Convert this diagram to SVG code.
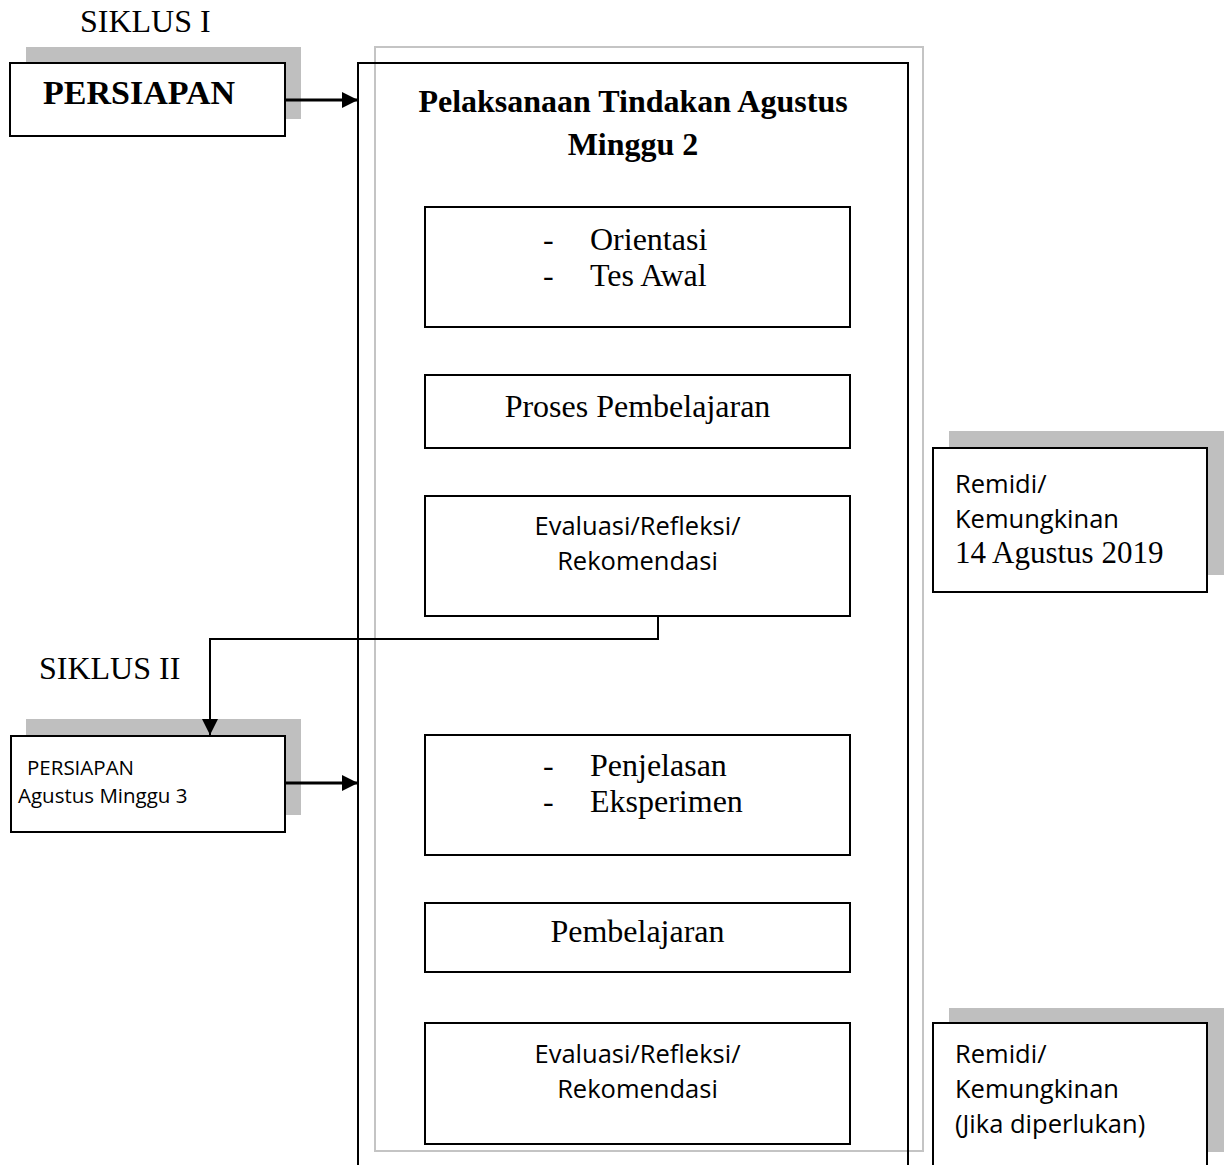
<svg xmlns="http://www.w3.org/2000/svg" width="1227" height="1165" viewBox="0 0 1227 1165">
<style>
.serif{font-family:"Liberation Serif","Times New Roman",serif;font-size:32px;fill:#000}
.bold{font-weight:bold}
.sans{font-family:"Open Sans","Noto Sans",sans-serif;font-size:25.5px;fill:#000}
.small{font-size:20.5px}
.box{fill:#fff;stroke:#000;stroke-width:2}
.shadow{fill:#bfbfbf;stroke:none}
.frame{fill:none;stroke:#000;stroke-width:2}
.gframe{fill:none;stroke:#c4c4c4;stroke-width:2}
.conn{fill:none;stroke:#000;stroke-width:2}
.thick{stroke-width:3}
</style>
<defs>
<marker id="ah" markerUnits="userSpaceOnUse" markerWidth="16" markerHeight="16" viewBox="0 0 16 16" refX="16" refY="8" orient="auto">
<path d="M0,0 L16,8 L0,16 Z" fill="#000"/>
</marker>
</defs>
<rect width="1227" height="1165" fill="#fff"/>

<g id="label-siklus1"><text class="serif" x="80" y="32">SIKLUS I</text></g>
<g id="label-siklus2"><text class="serif" x="39" y="679">SIKLUS II</text></g>

<g id="frames">
<rect class="gframe" x="375" y="47" width="548" height="1104"/>
<path class="frame" d="M358,1170 V63 H908 V1170"/>
</g>

<g id="persiapan1">
<rect class="shadow" x="26" y="47" width="275" height="72"/>
<rect class="box" x="10" y="63" width="275" height="73"/>
<text class="serif bold" x="43" y="104" style="font-size:34px">PERSIAPAN</text>
</g>

<g id="persiapan2">
<rect class="shadow" x="26" y="719" width="275" height="96"/>
<rect class="box" x="11" y="736" width="274" height="96"/>
<text class="sans small" x="27" y="775">PERSIAPAN</text>
<text class="sans small" x="18" y="803">Agustus Minggu 3</text>
</g>

<g id="title">
<text class="serif bold" x="633" y="112" text-anchor="middle">Pelaksanaan Tindakan Agustus</text>
<text class="serif bold" x="633" y="155" text-anchor="middle">Minggu 2</text>
</g>

<g id="orientasi">
<rect class="box" x="425" y="207" width="425" height="120"/>
<text class="serif" x="543" y="250">-</text>
<text class="serif" x="590" y="250">Orientasi</text>
<text class="serif" x="543" y="286">-</text>
<text class="serif" x="590" y="286">Tes Awal</text>
</g>

<g id="proses">
<rect class="box" x="425" y="375" width="425" height="73"/>
<text class="serif" x="637.5" y="417" text-anchor="middle">Proses Pembelajaran</text>
</g>

<g id="evaluasi1">
<rect class="box" x="425" y="496" width="425" height="120"/>
<text class="sans" x="637.5" y="535" text-anchor="middle">Evaluasi/Refleksi/</text>
<text class="sans" x="637.5" y="570" text-anchor="middle">Rekomendasi</text>
</g>

<g id="penjelasan">
<rect class="box" x="425" y="735" width="425" height="120"/>
<text class="serif" x="543" y="776">-</text>
<text class="serif" x="590" y="776">Penjelasan</text>
<text class="serif" x="543" y="812">-</text>
<text class="serif" x="590" y="812">Eksperimen</text>
</g>

<g id="pembelajaran">
<rect class="box" x="425" y="903" width="425" height="69"/>
<text class="serif" x="637.5" y="942" text-anchor="middle">Pembelajaran</text>
</g>

<g id="evaluasi2">
<rect class="box" x="425" y="1023" width="425" height="121"/>
<text class="sans" x="637.5" y="1063" text-anchor="middle">Evaluasi/Refleksi/</text>
<text class="sans" x="637.5" y="1098" text-anchor="middle">Rekomendasi</text>
</g>

<g id="remidi1">
<rect class="shadow" x="949" y="431" width="275" height="144"/>
<rect class="box" x="933" y="448" width="274" height="144"/>
<text class="sans" x="955" y="493">Remidi/</text>
<text class="sans" x="955" y="528">Kemungkinan</text>
<text class="serif" x="955" y="563" style="font-size:31px">14 Agustus 2019</text>
</g>

<g id="remidi2">
<rect class="shadow" x="949" y="1008" width="275" height="144"/>
<rect class="box" x="933" y="1023" width="274" height="150"/>
<text class="sans" x="955" y="1063">Remidi/</text>
<text class="sans" x="955" y="1098">Kemungkinan</text>
<text class="sans" x="955" y="1133">(Jika diperlukan)</text>
</g>

<g id="connectors">
<line class="conn thick" x1="285" y1="100" x2="358" y2="100" marker-end="url(#ah)"/>
<line class="conn thick" x1="285" y1="783" x2="358" y2="783" marker-end="url(#ah)"/>
<path class="conn" d="M658,616 V639 H210 V735" marker-end="url(#ah)"/>
</g>
</svg>
